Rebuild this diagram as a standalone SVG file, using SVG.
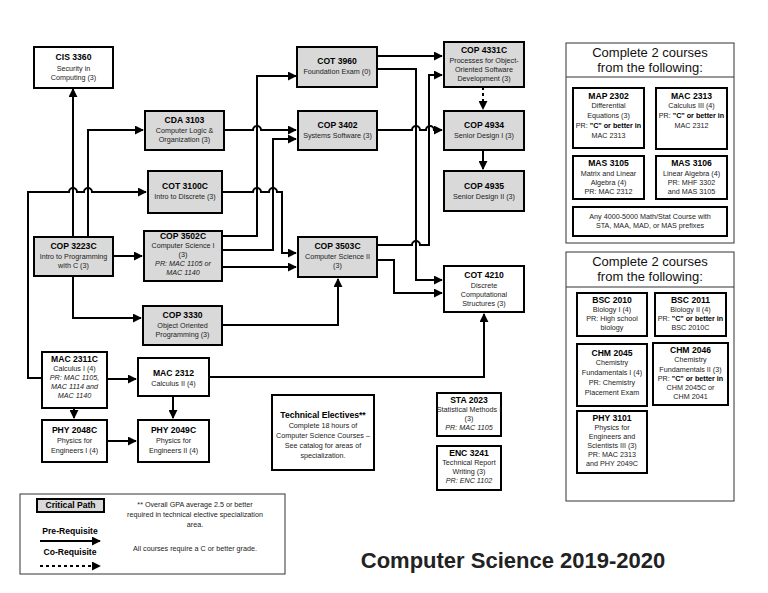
<svg xmlns="http://www.w3.org/2000/svg" width="768" height="593" viewBox="0 0 768 593">
<style>
text{font-family:"Liberation Sans",Arial,sans-serif;text-anchor:middle;fill:#222}
.t{font-weight:bold;font-size:8.6px;fill:#000}
.b{font-size:7.2px}
.i{font-size:7.2px;font-style:italic}
.g{fill:#d9d9d9;stroke:#000;stroke-width:2}
.w{fill:#fff;stroke:#000;stroke-width:2}
.c path{fill:none;stroke:#000;stroke-width:2;marker-end:url(#a)}
.p{fill:#fff;stroke:#333;stroke-width:1}
.h{font-size:13px;fill:#111}
</style>
<defs><marker id="a" viewBox="0 0 10 10" refX="9" refY="5" markerWidth="4.5" markerHeight="4.5" orient="auto" markerUnits="strokeWidth"><path d="M0,0L10,5L0,10z" fill="#000"/></marker></defs>
<rect width="768" height="593" fill="#fff"/>
<g class="c">
<path d="M73,237V89"/>
<path d="M88,237V130H143"/>
<path d="M42,378H28V192H69a4,4 0 0 1 8,0H84a4,4 0 0 1 8,0H146"/>
<path d="M113,256H142"/>
<path d="M73,276V318H141"/>
<path d="M224,130H253a4,4 0 0 1 8,0H296"/>
<path d="M222,236H257V76H296"/>
<path d="M222,250H273V139H296"/>
<path d="M222,192H253a4,4 0 0 1 8,0H269a4,4 0 0 1 8,0H282V253H296"/>
<path d="M222,267H296"/>
<path d="M222,325H338V279"/>
<path d="M377,56H442"/>
<path d="M377,69H416V280H442"/>
<path d="M377,130H412a4,4 0 0 1 8,0H426a4,4 0 0 1 8,0H442"/>
<path d="M377,245H412a4,4 0 0 1 8,0H429V75H442"/>
<path d="M377,260H394V293H442" stroke-width="2.8"/>
<path d="M483,87V109" stroke-dasharray="3,3"/>
<path d="M483,150V169"/>
<path d="M107,379H136"/>
<path d="M74,408V418"/>
<path d="M173,396V418"/>
<path d="M107,441H136"/>
<path d="M209,377H484V314"/>
</g>
<g id="cis3360"><rect class="w" x="34" y="47" width="79" height="41"/><text class="t" x="73.5" y="60">CIS 3360</text><text class="b" x="73.5" y="71">Security in</text><text class="b" x="73.5" y="80">Computing (3)</text></g>
<g id="cda3103"><rect class="g" x="145" y="111" width="79" height="39"/><text class="t" x="184.5" y="123">CDA 3103</text><text class="b" x="184.5" y="133">Computer Logic &amp;</text><text class="b" x="184.5" y="142">Organization (3)</text></g>
<g id="cot3100c"><rect class="g" x="148" y="171" width="74" height="42"/><text class="t" x="185" y="189">COT 3100C</text><text class="b" x="185" y="199">Intro to Discrete (3)</text></g>
<g id="cop3502c"><rect class="g" x="144" y="231" width="78" height="50"/><text class="t" x="183" y="239">COP 3502C</text><text class="b" x="183" y="248">Computer Science I</text><text class="b" x="183" y="257">(3)</text><text class="i" x="183" y="266">PR: MAC 1105 or</text><text class="i" x="183" y="275">MAC 1140</text></g>
<g id="cop3223c"><rect class="g" x="34" y="237" width="79" height="39"/><text class="t" x="73.5" y="249">COP 3223C</text><text class="b" x="73.5" y="259">Intro to Programming</text><text class="b" x="73.5" y="268">with C (3)</text></g>
<g id="cop3330"><rect class="g" x="143" y="306" width="79" height="39"/><text class="t" x="182.5" y="318">COP 3330</text><text class="b" x="182.5" y="328">Object Oriented</text><text class="b" x="182.5" y="337">Programming (3)</text></g>
<g id="cot3960"><rect class="g" x="297" y="47" width="80" height="40"/><text class="t" x="337" y="64">COT 3960</text><text class="b" x="337" y="74">Foundation Exam (0)</text></g>
<g id="cop3402"><rect class="g" x="298" y="111" width="79" height="39"/><text class="t" x="337.5" y="128">COP 3402</text><text class="b" x="337.5" y="138">Systems Software (3)</text></g>
<g id="cop3503c"><rect class="g" x="298" y="237" width="79" height="40"/><text class="t" x="337.5" y="249">COP 3503C</text><text class="b" x="337.5" y="259">Computer Science II</text><text class="b" x="337.5" y="268">(3)</text></g>
<g id="cop4331c"><rect class="g" x="444" y="42" width="80" height="45"/><text class="t" x="484" y="53">COP 4331C</text><text class="b" x="484" y="63">Processes for Object-</text><text class="b" x="484" y="72">Oriented Software</text><text class="b" x="484" y="81">Development (3)</text></g>
<g id="cop4934"><rect class="g" x="444" y="111" width="80" height="39"/><text class="t" x="484" y="128">COP 4934</text><text class="b" x="484" y="138">Senior Design I (3)</text></g>
<g id="cop4935"><rect class="g" x="444" y="171" width="80" height="40"/><text class="t" x="484" y="189">COP 4935</text><text class="b" x="484" y="199">Senior Design II (3)</text></g>
<g id="cot4210"><rect class="w" x="444" y="266" width="80" height="46"/><text class="t" x="484" y="278">COT 4210</text><text class="b" x="484" y="288">Discrete</text><text class="b" x="484" y="297">Computational</text><text class="b" x="484" y="306">Structures (3)</text></g>
<g id="mac2311c"><rect class="w" x="42" y="352" width="65" height="56"/><text class="t" x="74.5" y="362">MAC 2311C</text><text class="b" x="74.5" y="371">Calculus I (4)</text><text class="i" x="74.5" y="380">PR: MAC 1105,</text><text class="i" x="74.5" y="389">MAC 1114 and</text><text class="i" x="74.5" y="398">MAC 1140</text></g>
<g id="mac2312"><rect class="w" x="138" y="358" width="71" height="38"/><text class="t" x="173.5" y="376">MAC 2312</text><text class="b" x="173.5" y="386">Calculus II (4)</text></g>
<g id="phy2048c"><rect class="w" x="42" y="420" width="65" height="42"/><text class="t" x="74.5" y="433">PHY 2048C</text><text class="b" x="74.5" y="443">Physics for</text><text class="b" x="74.5" y="453">Engineers I (4)</text></g>
<g id="phy2049c"><rect class="w" x="138" y="420" width="71" height="42"/><text class="t" x="173.5" y="433">PHY 2049C</text><text class="b" x="173.5" y="443">Physics for</text><text class="b" x="173.5" y="453">Engineers II (4)</text></g>
<g id="techelec"><rect class="w" x="272" y="395" width="102" height="75"/><text class="t" x="323" y="418">Technical Electives**</text><text class="b" x="323" y="428">Complete 18 hours of</text><text class="b" x="323" y="438">Computer Science Courses –</text><text class="b" x="323" y="448">See catalog for areas of</text><text class="b" x="323" y="458">specialization.</text></g>
<g id="sta2023"><rect class="w" x="437" y="393" width="64" height="43"/><text class="t" x="469" y="403">STA 2023</text><text class="b" x="469" y="412">Statistical Methods I</text><text class="b" x="469" y="421">(3)</text><text class="i" x="469" y="430">PR: MAC 1105</text></g>
<g id="enc3241"><rect class="w" x="437" y="446" width="64" height="44"/><text class="t" x="469" y="456">ENC 3241</text><text class="b" x="469" y="465">Technical Report</text><text class="b" x="469" y="474">Writing (3)</text><text class="i" x="469" y="483">PR: ENC 1102</text></g>
<g id="panel1"><rect class="p" x="566" y="43" width="168" height="200"/><line x1="566" y1="77" x2="734" y2="77" stroke="#333"/><text class="h" x="650" y="57">Complete 2 courses</text><text class="h" x="650" y="72">from the following:</text>
<g id="map2302"><rect class="w" x="573" y="88" width="71" height="60"/><text class="t" x="608.5" y="99">MAP 2302</text><text class="b" x="608.5" y="108">Differential</text><text class="b" x="608.5" y="118">Equations (3)</text><text class="b" x="608.5" y="128">PR: <tspan font-weight="bold" fill="#000">"C" or better in</tspan></text><text class="b" x="608.5" y="138">MAC 2313</text></g>
<g id="mac2313"><rect class="w" x="656" y="88" width="71" height="61"/><text class="t" x="691.5" y="99">MAC 2313</text><text class="b" x="691.5" y="108">Calculus III (4)</text><text class="b" x="691.5" y="118">PR: <tspan font-weight="bold" fill="#000">"C" or better in</tspan></text><text class="b" x="691.5" y="128">MAC 2312</text></g>
<g id="mas3105"><rect class="w" x="573" y="156" width="71" height="43"/><text class="t" x="608.5" y="166">MAS 3105</text><text class="b" x="608.5" y="176">Matrix and Linear</text><text class="b" x="608.5" y="185">Algebra (4)</text><text class="b" x="608.5" y="194">PR: MAC 2312</text></g>
<g id="mas3106"><rect class="w" x="656" y="156" width="71" height="43"/><text class="t" x="691.5" y="166">MAS 3106</text><text class="b" x="691.5" y="176">Linear Algebra (4)</text><text class="b" x="691.5" y="185">PR: MHF 3302</text><text class="b" x="691.5" y="194">and MAS 3105</text></g>
<g id="any4000"><rect class="w" x="573" y="207" width="154" height="29"/><text class="b" x="650" y="219">Any 4000-5000 Math/Stat Course with</text><text class="b" x="650" y="228">STA, MAA, MAD, or MAS prefixes</text></g></g>
<g id="panel2"><rect class="p" x="566" y="252" width="168" height="249"/><line x1="566" y1="287" x2="734" y2="287" stroke="#333"/><text class="h" x="650" y="266">Complete 2 courses</text><text class="h" x="650" y="281">from the following:</text>
<g id="bsc2010"><rect class="w" x="577" y="293" width="70" height="43"/><text class="t" x="612" y="303">BSC 2010</text><text class="b" x="612" y="312">Biology I (4)</text><text class="b" x="612" y="321">PR: High school</text><text class="b" x="612" y="330">biology</text></g>
<g id="bsc2011"><rect class="w" x="655" y="293" width="71" height="43"/><text class="t" x="690.5" y="303">BSC 2011</text><text class="b" x="690.5" y="312">Biology II (4)</text><text class="b" x="690.5" y="321">PR: <tspan font-weight="bold" fill="#000">"C" or better in</tspan></text><text class="b" x="690.5" y="330">BSC 2010C</text></g>
<g id="chm2045"><rect class="w" x="577" y="344" width="70" height="62"/><text class="t" x="612" y="356">CHM 2045</text><text class="b" x="612" y="365">Chemistry</text><text class="b" x="612" y="375">Fundamentals I (4)</text><text class="b" x="612" y="385">PR: Chemistry</text><text class="b" x="612" y="395">Placement Exam</text></g>
<g id="chm2046"><rect class="w" x="653" y="343" width="75" height="62"/><text class="t" x="690.5" y="353">CHM 2046</text><text class="b" x="690.5" y="362">Chemistry</text><text class="b" x="690.5" y="372">Fundamentals II (3)</text><text class="b" x="690.5" y="381">PR: <tspan font-weight="bold" fill="#000">"C" or better in</tspan></text><text class="b" x="690.5" y="390">CHM 2045C or</text><text class="b" x="690.5" y="399">CHM 2041</text></g>
<g id="phy3101"><rect class="w" x="577" y="411" width="70" height="62"/><text class="t" x="612" y="421">PHY 3101</text><text class="b" x="612" y="430">Physics for</text><text class="b" x="612" y="439">Engineers and</text><text class="b" x="612" y="448">Scientists III (3)</text><text class="b" x="612" y="457">PR: MAC 2313</text><text class="b" x="612" y="466">and PHY 2049C</text></g></g>
<g id="legend"><rect class="p" x="20" y="494" width="265" height="80"/><rect class="g" x="37" y="499" width="67" height="13"/><text class="t" x="70.5" y="508" font-size="8">Critical Path</text>
<text class="t" x="70" y="534" font-size="8">Pre-Requisite</text><path d="M40,541H100" stroke="#000" stroke-width="2" marker-end="url(#a)"/>
<text class="t" x="70" y="555" font-size="8">Co-Requisite</text><path d="M40,566H100" stroke="#000" stroke-width="2" stroke-dasharray="3,3" marker-end="url(#a)"/>
<text class="b" x="195" y="507">** Overall GPA average 2.5 or better</text><text class="b" x="195" y="517">required in technical elective specialization</text><text class="b" x="195" y="527">area.</text><text class="b" x="195" y="551">All courses require a C or better grade.</text></g>
<text x="513" y="568" font-size="22" font-weight="bold" fill="#000">Computer Science 2019-2020</text>
</svg>
